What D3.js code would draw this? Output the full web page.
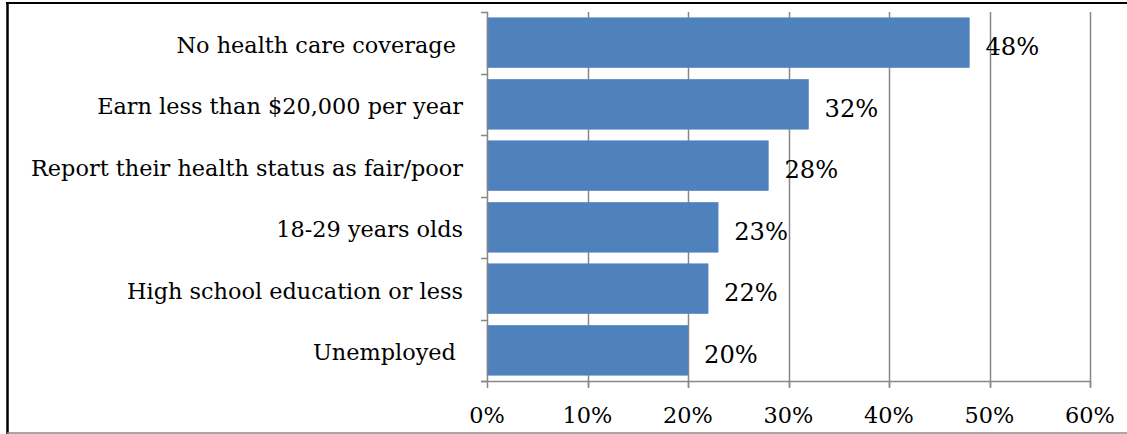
<!DOCTYPE html>
<html><head><meta charset="utf-8">
<script src="https://cdn.jsdelivr.net/npm/d3@7"></script>
<style>
html,body{margin:0;padding:0;background:#fff;}
svg{display:block;}
text{font-family:"DejaVu Serif",serif;fill:#000;white-space:pre;}
</style></head>
<body>
<svg id="chart" width="1127" height="434"></svg>
<script>
const categories = ["No health care coverage ","Earn less than $20,000 per year","Report their health status as fair/poor","18-29 years olds","High school education or less","Unemployed "];
const values = [0.48,0.32,0.28,0.23,0.22,0.20];
const valueLabels = ["48%","32%","28%","23%","22%","20%"];
const xTicks = [0,0.1,0.2,0.3,0.4,0.5,0.6];
const xTickLabels = ["0%","10%","20%","30%","40%","50%","60%"];

const svg = d3.select("#chart");
const W = 1127, H = 434;

// size font so that longest label spans the same width as the reference
const probe = svg.append("text").attr("font-size",20).text(categories[2]);
const pw = probe.node().getComputedTextLength();
probe.remove();
const fs = Math.round(20 * 433 / pw * 10) / 10;

// frame
svg.append("line").attr("x1",6).attr("x2",W).attr("y1",3).attr("y2",3).attr("stroke","#000").attr("stroke-width",2);
svg.append("line").attr("x1",7.5).attr("x2",7.5).attr("y1",2).attr("y2",H).attr("stroke","#000").attr("stroke-width",2.5);
svg.append("line").attr("x1",7).attr("x2",W).attr("y1",433).attr("y2",433).attr("stroke","#8a8a8a").attr("stroke-width",1.5);

const x = d3.scaleLinear().domain([0,0.6]).range([487,1090]);
const y = d3.scaleBand().domain(categories).range([12,381]).paddingInner(0.187).paddingOuter(0.0935);
const bounds = d3.scaleLinear().domain([0,categories.length]).range([12,381]);

// gridlines
svg.append("g").selectAll("line").data(xTicks.slice(1)).join("line")
  .attr("x1",d=>Math.round(x(d))+0.5).attr("x2",d=>Math.round(x(d))+0.5)
  .attr("y1",12).attr("y2",387).attr("stroke","#878787").attr("stroke-width",1.5);

// bars
svg.append("g").selectAll("rect").data(categories).join("rect")
  .attr("x",x(0)).attr("y",d=>y(d)).attr("width",(d,i)=>x(values[i])-x(0)).attr("height",y.bandwidth())
  .attr("fill","#4F81BD").attr("stroke","#5b8cc6").attr("stroke-width",0.5);

// y axis line and ticks
svg.append("line").attr("x1",487.5).attr("x2",487.5).attr("y1",12).attr("y2",381).attr("stroke","#878787").attr("stroke-width",1.5);
svg.append("g").selectAll("line").data(d3.range(categories.length+1)).join("line")
  .attr("x1",481).attr("x2",488).attr("y1",d=>Math.round(bounds(d))+0.5).attr("y2",d=>Math.round(bounds(d))+0.5)
  .attr("stroke","#878787").attr("stroke-width",1.5);
// x axis line and ticks
svg.append("line").attr("x1",481).attr("x2",1091).attr("y1",381.5).attr("y2",381.5).attr("stroke","#878787").attr("stroke-width",1.5);
svg.append("g").selectAll("line").data(xTicks).join("line")
  .attr("x1",d=>Math.round(x(d))+0.5).attr("x2",d=>Math.round(x(d))+0.5).attr("y1",381).attr("y2",388)
  .attr("stroke","#878787").attr("stroke-width",1.5);

// category labels
svg.append("g").selectAll("text").data(categories).join("text")
  .attr("x",463).attr("y",d=>y(d)+y.bandwidth()/2+2).attr("dy","0.35em")
  .attr("text-anchor","end").attr("font-size",fs).text(d=>d);

// value labels
svg.append("g").selectAll("text").data(categories).join("text")
  .attr("x",(d,i)=>x(values[i])+16).attr("y",d=>y(d)+y.bandwidth()/2+4).attr("dy","0.35em")
  .attr("font-size",fs*1.08).text((d,i)=>valueLabels[i]);

// x tick labels
svg.append("g").selectAll("text").data(xTicks).join("text")
  .attr("x",d=>x(d)).attr("y",415).attr("dy","0.35em").attr("text-anchor","middle")
  .attr("font-size",fs).text((d,i)=>xTickLabels[i]);
</script>
</body></html>
